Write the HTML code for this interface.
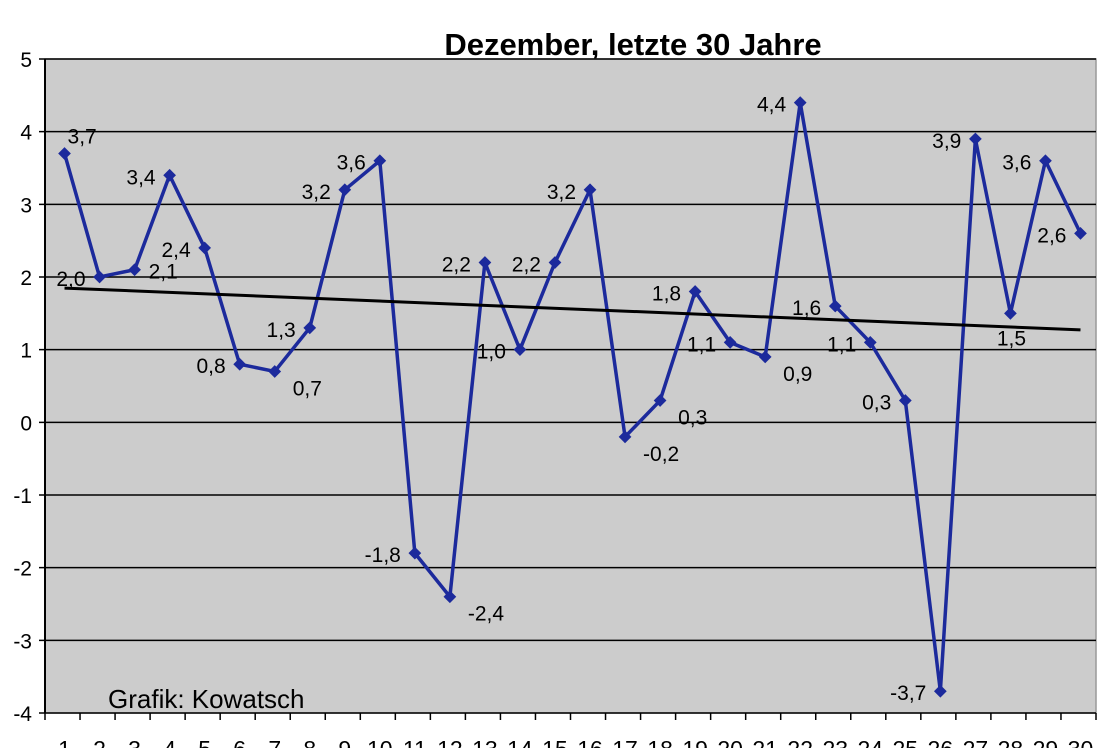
<!DOCTYPE html>
<html><head><meta charset="utf-8"><style>
body{margin:0;background:#fff;width:1108px;height:748px;overflow:hidden}
svg{display:block;font-family:"Liberation Sans",Arial,sans-serif}
</style></head><body>
<svg id="chart" width="1108" height="748" viewBox="0 0 1108 748">
<text x="633" y="55" font-size="31" font-weight="bold" text-anchor="middle">Dezember, letzte 30 Jahre</text>
<g id="plot"></g>
</svg>
<script>
const categories=[1,2,3,4,5,6,7,8,9,10,11,12,13,14,15,16,17,18,19,20,21,22,23,24,25,26,27,28,29,30];
const values=[3.7,2.0,2.1,3.4,2.4,0.8,0.7,1.3,3.2,3.6,-1.8,-2.4,2.2,1.0,2.2,3.2,-0.2,0.3,1.8,1.1,0.9,4.4,1.6,1.1,0.3,-3.7,3.9,1.5,3.6,2.6];
const valueLabels=["3,7","2,0","2,1","3,4","2,4","0,8","0,7","1,3","3,2","3,6","-1,8","-2,4","2,2","1,0","2,2","3,2","-0,2","0,3","1,8","1,1","0,9","4,4","1,6","1,1","0,3","-3,7","3,9","1,5","3,6","2,6"];
const yTicks=[-4,-3,-2,-1,0,1,2,3,4,5];
const labelSide=["ra","l","r","l","l","l","rb","l","l","l","l","rb","l","l","l","l","rb","rb","l","l","rb","l","l","l","l","l","l","b","l","l"];
const L=45,R=1096,T=59,B=713,ymin=-4,ymax=5;
const n=categories.length,bw=(R-L)/n;
const x=i=>L+2+bw*(i+0.5);
const y=v=>B-(v-ymin)/(ymax-ymin)*(B-T);
const g=document.getElementById('plot');
const NS='http://www.w3.org/2000/svg';
function mk(t,a){const e=document.createElementNS(NS,t);for(const k in a)e.setAttribute(k,a[k]);g.appendChild(e);return e;}
let e=mk('rect',{x:L,y:T,width:R-L,height:B-T,fill:'#cccccc',stroke:'#999',"stroke-width":1.5});

yTicks.forEach(v=>{
 let gl=mk('line',{x1:L-6,x2:R,y1:y(v),y2:y(v),stroke:'#000',"stroke-width":1.5});
 
 let t=mk('text',{x:L-13,y:y(v)+8,"font-size":21,"text-anchor":"end"});t.textContent=v;
 
});
let ax=mk('line',{x1:L,x2:L,y1:T,y2:B,stroke:'#000',"stroke-width":2});

for(let i=0;i<=n;i++){let tk=mk('line',{x1:L+bw*i,x2:L+bw*i,y1:B,y2:B+7,stroke:'#000',"stroke-width":1.5});
 }
categories.forEach((c,i)=>{let t=mk('text',{x:x(i),y:757,"font-size":23,"text-anchor":"middle"});t.textContent=c;
 });
let gr=mk('text',{x:108,y:708,"font-size":26});gr.textContent='Grafik: Kowatsch';

let pl=mk('polyline',{points:values.map((v,i)=>x(i)+','+y(v)).join(' '),fill:'none',stroke:'#1c2a9c',"stroke-width":3.5,"stroke-linejoin":"miter"});

let mx=0,my=0;values.forEach((v,i)=>{mx+=i;my+=v});mx/=n;my/=n;
let sxy=0,sxx=0;values.forEach((v,i)=>{sxy+=(i-mx)*(v-my);sxx+=(i-mx)*(i-mx)});
const slope=sxy/sxx,icpt=my-slope*mx;
let tr=mk('line',{x1:x(0),y1:y(icpt),x2:x(n-1),y2:y(icpt+slope*(n-1)),stroke:'#000',"stroke-width":3});

values.forEach((v,i)=>{
 let m=mk('rect',{x:x(i)-4.5,y:y(v)-4.5,width:9,height:9,fill:'#1c2a9c',transform:`rotate(45 ${x(i)} ${y(v)})`});
 
 const s=labelSide[i];let lx,ly,an;
 if(s==='l'){lx=x(i)-14;ly=y(v)+9;an='end';}
 else if(s==='r'){lx=x(i)+14;ly=y(v)+9;an='start';}
 else if(s==='ra'){lx=x(i)+3;ly=y(v)-10;an='start';}
 else if(s==='b'){lx=x(i)+1;ly=y(v)+32;an='middle';}
 else {lx=x(i)+18;ly=y(v)+24;an='start';}
 let t=mk('text',{x:lx,y:ly,"font-size":21,"text-anchor":an});t.textContent=valueLabels[i];
 
});
</script>
</body></html>
